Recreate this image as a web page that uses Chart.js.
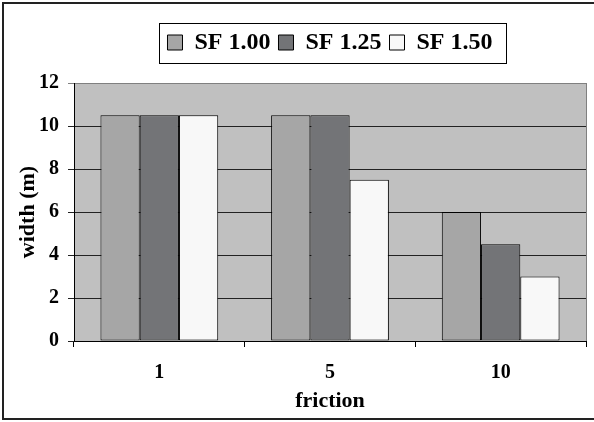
<!DOCTYPE html>
<html>
<head>
<meta charset="utf-8">
<script src="https://cdn.jsdelivr.net/npm/chart.js@4/dist/chart.umd.min.js"></script>
<style>
  html, body { margin: 0; padding: 0; background: #fff; }
  canvas { display: block; }
</style>
</head>
<body>
<canvas id="chart" width="594" height="422"></canvas>
<script>
// values
const frictions = ['1', '5', '10'];
const sf100 = [10.5, 10.5, 6];
const sf125 = [10.5, 10.5, 4.5];
const sf150 = [10.5, 7.5, 3];
const seriesNames = ['SF 1.00', 'SF 1.25', 'SF 1.50'];
const yTicks = [0, 2, 4, 6, 8, 10, 12];

const serif = '"Liberation Serif", "Times New Roman", serif';

// grey plot area, chart frame and the box round the legend
const frame = {
  id: 'frame',
  beforeDraw(chart) {
    const { ctx, chartArea: a } = chart;
    ctx.save();
    ctx.fillStyle = '#fff';
    ctx.fillRect(0, 0, chart.width, chart.height);
    ctx.fillStyle = '#c0c0c0';
    ctx.fillRect(a.left, a.top, a.right - a.left, a.bottom - a.top);
    ctx.restore();
  },
  afterDraw(chart) {
    const { ctx, chartArea: a } = chart;
    ctx.save();
    ctx.strokeStyle = '#808080';
    ctx.lineWidth = 1;
    ctx.beginPath();
    ctx.moveTo(Math.round(a.right) + 0.5, a.top);
    ctx.lineTo(Math.round(a.right) + 0.5, a.bottom);
    ctx.stroke();

    const hb = chart.legend.legendHitBoxes;
    if (hb && hb.length) {
      const first = hb[0], last = hb[hb.length - 1];
      const x1 = Math.round(first.left - 8) + 0.5;
      const x2 = Math.round(last.left + last.width + 13) + 0.5;
      const y1 = Math.round(first.top - 8) + 0.5;
      const y2 = Math.round(first.top + first.height + 8) + 0.5;
      ctx.strokeStyle = '#000';
      ctx.strokeRect(x1, y1, x2 - x1, y2 - y1);
    }

    ctx.strokeStyle = '#222';
    ctx.lineWidth = 2;
    ctx.strokeRect(3, 3, chart.width + 10, 416);
    ctx.restore();
  }
};

new Chart(document.getElementById('chart'), {
  type: 'bar',
  data: {
    labels: frictions,
    datasets: [
      { label: seriesNames[0], data: sf100, backgroundColor: '#a6a6a6', borderColor: '#000' },
      { label: seriesNames[1], data: sf125, backgroundColor: '#737477', borderColor: '#000' },
      { label: seriesNames[2], data: sf150, backgroundColor: '#f8f8f8', borderColor: '#000' }
    ]
  },
  options: {
    responsive: false,
    animation: false,
    devicePixelRatio: 1,
    layout: { padding: { top: 22.5, left: 17, right: 8, bottom: 3 } },
    datasets: {
      bar: {
        borderWidth: 1,
        borderSkipped: false,
        categoryPercentage: 0.69,
        barPercentage: 1
      }
    },
    plugins: {
      legend: {
        position: 'top',
        fullSize: false,
        labels: {
          boxWidth: 15,
          boxHeight: 15,
          padding: 8,
          color: '#000',
          font: { family: serif, size: 24, weight: 'bold' }
        }
      },
      subtitle: {
        display: true,
        text: '',
        weight: 500,
        fullSize: false,
        font: { size: 10, lineHeight: 1 },
        padding: { top: 8.5, bottom: 0 }
      },
      tooltip: { enabled: false }
    },
    scales: {
      x: {
        afterFit(scale) { scale.height = 78; },
        grid: {
          offset: true,
          drawOnChartArea: false,
          tickLength: 6,
          color: '#000'
        },
        border: { color: '#000', width: 1 },
        ticks: {
          padding: 14,
          color: '#000',
          font: { family: serif, size: 20, weight: 'bold' }
        },
        title: {
          display: true,
          text: 'friction',
          color: '#000',
          font: { family: serif, size: 22, weight: 'bold' },
          padding: { top: 4, bottom: 4 }
        }
      },
      y: {
        min: 0,
        max: 12,
        afterBuildTicks(scale) {
          scale.ticks = yTicks.map(v => ({ value: v }));
        },
        afterFit(scale) { scale.width = 57; },
        grid: {
          tickLength: 6,
          color: ctx => (ctx.tick && ctx.tick.value === 12 ? '#808080' : '#222')
        },
        border: { color: '#000', width: 1 },
        ticks: {
          padding: 9,
          color: '#000',
          font: { family: serif, size: 20, weight: 'bold' }
        },
        title: {
          display: true,
          text: 'width (m)',
          color: '#000',
          font: { family: serif, size: 22, weight: 'bold', lineHeight: 1 },
          padding: 0
        }
      }
    }
  },
  plugins: [frame]
});
</script>
</body>
</html>
